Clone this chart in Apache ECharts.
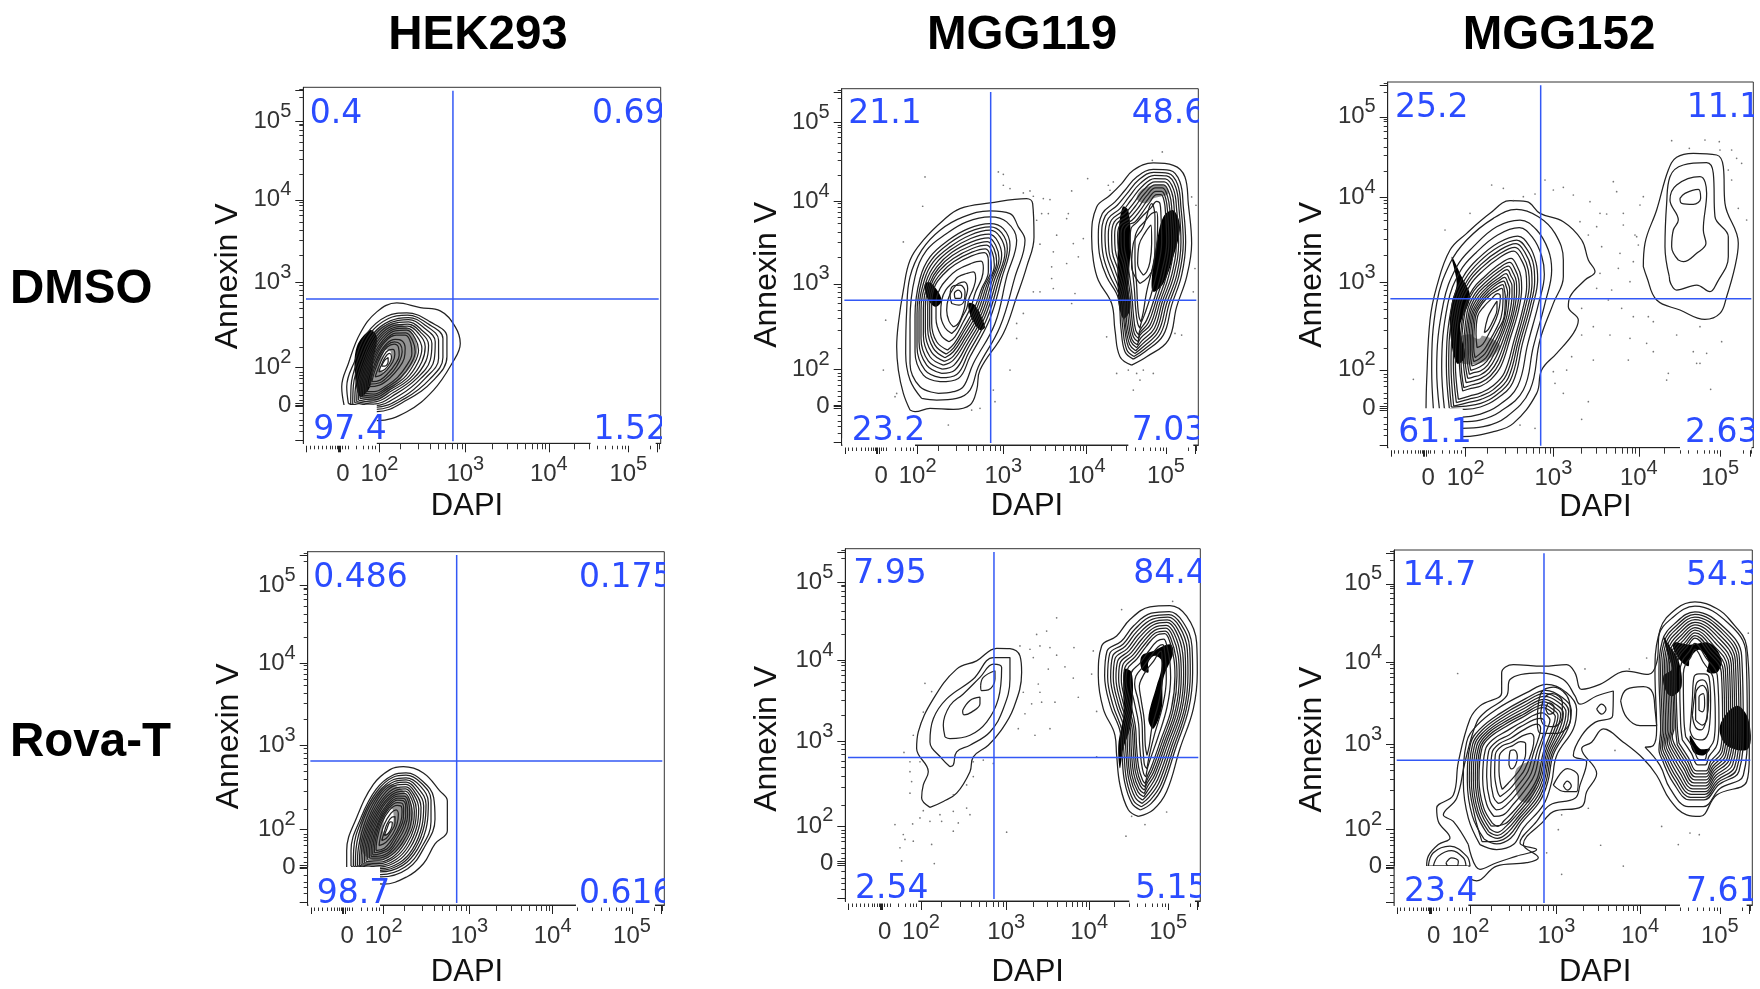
<!DOCTYPE html>
<html><head><meta charset="utf-8">
<script src="https://cdn.jsdelivr.net/npm/echarts@6/dist/echarts.min.js"></script>
<style>html,body{margin:0;padding:0;background:#fff}#c{width:1760px;height:989px}</style>
</head><body><div id="c"></div>
<script>
const columns=['HEK293','MGG119','MGG152'];
const rows=['DMSO','Rova-T'];
const xName='DAPI', yName='Annexin V';
const decadeLabels=['0','2','3','4','5'];
const xDecades=[108,228,485,735,973];
const yDecades=[115,228,484,732,968];
const xMinor=[20,32,45,58,70,80,88,95,102,118,125,135,160,180,195,205,215,290,345,380,405,425,445,460,475,565,610,640,665,685,700,715,725,810,855,880,905,925,940,955,965,1040,1065];
const yMinor=[35,55,70,90,110,120,130,145,160,180,195,205,215,290,345,380,405,425,445,460,475,564,610,640,665,685,700,715,725,810,855,880,905,925,940,955,960,1040,1065];

const hekDmsoPct=['0.4','0.69','97.4','1.52'];
const mgg119DmsoPct=['21.1','48.6','23.2','7.03'];
const mgg152DmsoPct=['25.2','11.1','61.1','2.63'];
const hekRovaPct=['0.486','0.175','98.7','0.616'];
const mgg119RovaPct=['7.95','84.4','2.54','5.15'];
const mgg152RovaPct=['14.7','54.3','23.4','7.61'];

const hekDmsoContours=[
[122,115,115,170,135,240,170,330,220,395,280,422,350,408,410,398,455,350,470,300,445,240,390,160,310,95,220,68,140,85],
[135,120,130,170,155,250,190,330,250,382,310,392,380,365,430,320,430,260,390,190,310,130,220,95],
[148,118,150,175,175,260,210,330,260,368,315,378,365,355,405,310,405,255,365,195,300,140,215,108],
[160,125,165,185,190,265,222,325,265,358,315,365,355,340,385,300,380,250,340,195,280,150,210,118],
[170,135,175,190,200,265,232,320,272,348,312,352,345,330,365,290,355,245,320,195,265,158,210,130],
[180,145,185,195,210,265,240,312,275,338,310,340,335,315,345,280,332,240,300,195,255,165,210,142],
[190,155,195,200,218,262,245,305,278,325,305,325,322,300,325,270,310,235,282,198,248,172,212,155],
[195,170,205,215,225,265,250,300,275,312,295,308,305,285,302,255,285,225,258,195,228,175],
[205,185,215,220,232,262,252,290,272,298,285,288,287,265,275,238,255,212,230,190],
[215,200,225,228,240,262,255,280,268,282,274,268,268,245,250,220,232,205],
[226,215,235,238,246,260,258,270,264,258,258,240,244,222],
[234,232,244,250,254,258,254,245,244,232],
[142,118,143,172,165,255,200,330,255,375,312,385,372,360,418,315,418,258,378,192,305,135,218,102],
[154,122,158,180,183,262,216,328,262,363,315,372,360,348,395,305,392,252,352,195,290,145,212,113],
[165,130,170,188,195,265,227,322,268,353,313,358,350,335,375,295,367,247,330,195,272,154,210,124],
[175,140,180,192,205,265,236,316,273,343,311,346,340,322,355,285,343,242,310,195,260,162,210,136],
[185,150,190,198,214,263,243,308,277,331,307,332,328,307,335,275,321,237,291,197,251,168,211,148],
[200,178,210,218,228,264,251,295,273,305,290,298,296,275,288,247,270,218,244,192,229,182]];
const hekDmsoShade=[[160,200,190,310,260,360,320,340,340,270,290,190,220,130,170,140]];
const hekDmsoDark=[[160,290,200,340,220,320,210,250,200,170,170,140,155,200]];
const hekDmsoHoles=[[228,225,245,280,262,275,258,235,240,215]];
const hekDmsoDots=[];

const hekRovaContours=[
[117,115,117,165,147,265,197,365,247,410,287,419,347,400,397,345,419,315,419,225,382,185,347,125,297,85,227,63,130,95],
[130,118,130,165,160,265,205,350,255,393,295,400,345,375,378,325,382,260,350,175,300,110,220,85],
[143,118,145,170,170,265,212,340,258,380,295,385,338,360,362,310,358,245,330,170,285,120,218,100],
[155,120,158,175,182,262,220,335,262,368,295,372,328,345,348,300,343,240,315,170,275,128,218,110],
[165,125,168,178,192,262,228,325,265,355,295,358,320,332,333,292,328,240,302,178,265,138,215,120],
[175,132,178,182,200,258,233,315,268,342,293,345,312,320,320,285,315,238,290,185,258,148,215,130],
[185,142,188,188,208,255,238,305,270,330,290,330,303,310,306,278,300,235,278,192,250,158,215,142],
[195,152,198,192,215,252,243,298,270,318,286,316,294,298,294,270,285,235,265,198,245,168,215,155],
[205,165,208,198,222,248,246,288,268,302,280,300,283,282,280,255,268,225,250,195,230,172],
[214,180,218,205,230,245,250,278,265,288,272,275,268,245,255,215,235,190],
[222,195,228,215,238,245,252,266,262,268,262,248,250,222,236,202],
[230,210,238,232,248,252,254,250,250,230,240,215],
[137,118,138,168,165,265,208,345,256,387,295,393,342,368,370,318,370,252,340,172,292,115,219,92],
[149,119,152,172,176,263,216,338,260,374,295,379,333,352,355,305,350,242,322,170,280,124,218,105],
[160,122,163,176,187,262,224,330,263,362,295,365,324,338,340,296,335,240,308,174,270,133,216,115],
[170,128,173,180,196,260,230,320,266,348,294,352,316,326,326,288,321,239,296,181,261,143,215,125],
[180,137,183,185,204,256,235,310,269,336,291,338,307,315,313,281,307,236,284,188,254,153,215,136],
[190,147,193,190,212,253,240,301,270,324,288,323,298,304,300,274,292,235,271,195,247,163,215,148],
[200,158,203,195,218,250,244,293,269,310,283,308,288,290,287,262,276,230,257,196,238,170]];
const hekRovaShade=[[157,235,187,315,237,365,287,345,317,275,287,185,217,135,167,155]];
const hekRovaDark=[];
const hekRovaHoles=[[225,230,240,290,255,290,255,240,235,215]];
const hekRovaDots=[];

const mgg119DmsoContours=[
[205,105,185,155,170,225,165,295,170,365,185,465,205,555,245,615,305,675,355,710,445,727,555,740,573,725,577,625,555,535,525,445,485,335,415,225,405,165,385,120,335,107,265,110,220,100],
[240,140,205,195,192,275,195,405,205,505,240,585,295,645,365,685,445,703,505,695,530,655,550,615,520,505,475,355,410,235,385,165,345,140,285,135],
[290,155,235,175,205,245,205,375,220,505,255,585,315,635,375,670,445,685,495,670,525,615,495,505,460,365,395,245,365,175,335,160],
[295,190,245,210,220,280,220,390,235,500,265,565,320,615,380,650,445,665,485,650,505,600,480,500,445,380,385,265,350,200],
[300,215,255,240,232,310,232,400,248,495,275,550,325,595,385,630,445,645,475,625,490,580,465,495,430,385,378,290,340,225],
[305,240,265,265,245,330,245,410,260,490,285,535,330,578,390,610,440,622,462,600,472,560,450,490,420,395,372,310,335,255],
[310,262,275,290,258,350,258,420,270,485,295,525,335,560,392,590,435,600,452,578,458,540,435,480,408,400,368,330,335,280],
[318,285,285,310,270,365,270,425,280,478,305,512,340,542,390,568,428,578,440,555,440,520,420,470,398,410,365,350,338,305],
[322,310,298,330,283,380,283,428,295,470,318,500,345,525,388,545,418,552,425,530,420,500,402,460,388,415,365,370,340,325],
[330,335,310,352,297,392,300,435,312,465,335,490,350,505,375,515,395,520,402,500,395,470,382,440,375,410,362,385,345,350],
[335,355,322,372,315,405,320,440,335,470,350,485,368,490,378,470,372,440,368,410,358,380,347,362],
[330,425,325,450,335,478,355,480,370,460,368,435,352,420],
[340,440,338,455,350,465,360,452,355,440],
[297,202,250,225,226,295,226,395,241,497,270,557,322,605,382,640,445,655,480,637,497,590,472,497,437,382,381,277,345,212],
[302,228,260,252,238,320,238,405,254,492,280,542,327,586,387,620,442,633,468,612,480,570,457,492,425,390,375,300,337,240],
[308,251,270,278,251,340,251,415,265,487,290,530,332,569,391,600,437,611,457,589,465,550,442,485,414,397,370,320,335,267],
[314,273,280,300,264,358,264,422,275,481,300,518,337,551,391,579,431,589,446,566,449,530,427,475,403,405,366,340,336,292],
[870,240,835,265,820,345,810,425,770,495,755,555,750,625,765,715,805,750,840,785,875,825,935,847,995,840,1030,805,1040,725,1050,605,1035,505,1005,415,980,315,915,265],
[875,258,850,280,838,350,830,440,795,505,775,565,770,625,782,695,820,730,850,765,885,805,935,828,985,825,1015,790,1025,715,1032,610,1020,510,990,420,965,330,910,280],
[880,275,860,295,848,360,840,445,812,520,795,570,790,630,800,680,835,710,862,745,895,785,938,810,975,808,1002,775,1012,710,1018,610,1005,510,975,425,950,340,905,295],
[885,292,868,310,855,370,850,450,828,530,812,580,810,630,818,670,850,695,875,725,905,765,940,790,968,790,990,760,998,705,1004,610,990,510,962,430,938,350,900,312],
[890,310,875,325,865,380,860,455,845,540,830,590,828,630,835,660,862,680,888,710,915,748,942,772,962,772,978,745,985,700,990,610,975,510,950,435,925,360,895,330],
[892,330,882,345,875,395,870,460,858,545,848,600,848,640,858,660,880,670,900,695,925,730,945,752,958,752,968,730,972,690,975,610,960,520,938,440,915,375,895,345],
[895,350,888,365,882,410,878,470,870,550,865,610,868,650,885,668,905,690,928,712,945,732,955,725,958,690,960,610,948,530,928,450,908,390,898,365],
[898,370,892,385,888,420,885,480,880,555,880,620,890,650,910,672,930,695,945,700,948,670,945,600,932,530,915,460,905,400],
[895,485,870,535,875,605,905,655,930,725,940,685,940,605,935,535,920,505],
[905,510,888,545,892,600,912,640,928,660,930,605,925,550,915,520],
[877,266,855,287,843,355,835,442,803,512,785,567,780,627,791,688,827,720,856,755,890,795,936,819,980,816,1008,782,1018,712,1025,610,1012,510,982,422,957,335,907,287],
[882,283,864,302,851,365,845,447,820,525,803,575,800,630,809,675,842,702,868,735,900,775,939,800,971,799,996,767,1005,707,1011,610,997,510,968,427,944,345,902,303],
[887,301,871,317,860,375,855,452,836,535,821,585,819,630,826,665,856,687,881,717,910,756,941,781,965,781,984,752,991,702,997,610,982,510,956,432,931,355,897,321],
[891,320,878,335,870,387,865,457,851,542,839,595,838,635,846,660,871,675,894,702,920,739,943,762,960,762,973,737,978,695,982,610,967,515,944,437,920,367,895,337]];
const mgg119DmsoShade=[[885,740,905,770,965,780,980,755,935,740,910,725]];
const mgg119DmsoDark=[[830,625,843,715,860,705,867,605,860,475,865,405,845,380,830,435],[945,605,965,685,995,705,1015,655,995,565,965,485,935,460,930,495],[250,485,270,485,300,435,280,415,255,445],[380,425,400,420,430,355,415,345,390,380]];
const mgg119DmsoHoles=[];
const mgg119DmsoDots=[[250,805],[243,717],[185,610],[470,820],[485,813],[485,780],[505,770],[565,763],[545,757],[575,747],[605,740],[625,737],[600,695],[620,695],[585,675],[690,763],[738,800],[800,780],[815,790],[805,765],[932,855],[962,880],[645,630],[695,605],[725,620],[595,603],[635,580],[680,695],[675,680],[710,565],[675,545],[630,535],[630,500],[635,470],[575,460],[595,460],[700,455],[690,425],[545,395],[525,365],[505,225],[525,320],[125,225],[132,375],[165,155],[160,145],[320,60],[390,105],[415,110],[455,165],[460,130],[795,325],[825,215],[860,225],[885,215],[905,225],[935,215],[875,165],[895,195],[1000,335],[1020,330],[1050,745],[1063,720],[1060,530],[1055,460]];

const mgg152DmsoContours=[
[115,118,117,203,127,383,147,483,187,593,237,643,307,703,367,741,417,738,457,703,527,678,582,623,602,563,622,528,592,503,547,453,542,423,572,383,557,343,507,283,462,233,447,163,377,73,317,48,222,33,130,60],
[137,118,132,233,147,433,187,553,237,623,317,688,387,715,452,693,502,643,527,563,527,513,497,433,457,323,427,173,357,93,287,63,222,58,145,80],
[155,118,147,233,167,433,207,543,257,603,327,663,397,683,447,653,482,593,492,533,472,433,437,303,407,173,337,108,277,83,222,78,160,95],
[170,118,162,240,180,430,218,530,265,585,330,638,395,660,435,630,462,575,470,520,452,430,420,310,390,185,330,125,275,100,225,92],
[185,118,176,245,192,425,228,515,272,568,332,615,390,635,425,605,445,555,450,505,435,425,405,315,375,195,325,145,278,122,232,115],
[198,125,190,250,205,420,238,500,280,550,335,592,385,612,412,585,430,540,433,495,420,420,392,320,362,210,320,165,280,145,240,135],
[212,145,203,255,217,415,247,487,287,532,335,570,378,590,400,565,415,525,417,485,405,415,380,325,350,225,315,185,280,165,245,155],
[225,170,215,260,228,410,255,475,293,515,335,550,370,568,388,545,400,512,402,478,392,410,368,330,340,245,310,205,280,185,250,178],
[235,195,227,265,238,405,262,462,298,500,335,530,362,545,376,525,386,498,387,470,378,405,357,335,330,262,305,225,280,208,255,200],
[245,220,238,275,247,400,270,450,302,485,335,510,355,522,365,505,373,485,373,460,365,400,345,340,320,282,300,248,278,230,258,225],
[253,245,248,285,255,395,277,440,305,472,330,492,348,500,355,485,360,465,358,450,352,395,335,345,312,300,295,270,275,255],
[262,270,258,300,263,390,282,430,310,460,330,472,342,478,346,462,346,440,340,390,322,350,305,320,290,295,275,280],
[228,180,220,262,232,408,258,470,295,508,335,540,366,556,382,535,393,505,395,474,385,408,362,332,335,253,308,215,280,196,252,188],
[240,208,232,270,243,402,266,456,300,492,335,520,358,534,370,515,380,492,380,465,372,402,351,337,325,272,302,236,279,219,256,212],
[249,232,243,280,251,397,274,445,303,478,332,500,351,511,360,495,366,475,365,455,358,397,340,342,316,291,297,259,276,242],
[258,258,253,292,259,392,280,435,308,466,330,482,345,489,350,473,353,452,349,392,328,348,308,310,292,282,275,267],
[206,135,197,252,211,418,242,494,283,541,335,581,382,601,406,575,422,532,425,490,412,418,386,322,356,218,318,175,280,155,242,145],
[191,122,183,248,198,422,233,507,276,559,333,603,387,623,418,595,438,547,441,500,427,422,398,318,368,202,322,155,279,133,236,125],
[268,300,265,340,270,395,290,425,310,445,330,462,338,455,335,420,325,385,305,345,285,310],
[290,345,300,390,315,420,328,440,328,415,318,385,302,355],
[767,543,772,613,807,713,842,833,867,871,917,883,987,878,1007,843,1012,733,1052,613,1042,543,1017,453,997,403,952,385,877,413,807,443,777,513],
[845,513,832,603,837,733,847,813,887,848,957,855,977,823,982,693,1022,633,1022,573,987,493,967,468,927,488,867,473,849,493],
[872,563,852,603,857,653,872,683,847,743,867,788,937,813,957,763,947,653,955,613,927,583,887,558],
[877,748,892,763,932,775,939,748,917,730,882,733]];
const mgg152DmsoShade=[[217,333,297,333,337,303,277,253,207,263]];
const mgg152DmsoDark=[[192,573,222,513,247,453,217,363,232,273,207,253,187,353,192,433,207,493]];
const mgg152DmsoHoles=[[242,408,267,413,287,363,277,328,257,333,245,363],[277,433,297,438,309,403,292,393]];
const mgg152DmsoDots=[[312,788],[347,778],[247,703],[172,653],[377,741],[407,753],[442,761],[472,803],[497,773],[527,781],[557,758],[607,738],[637,703],[657,701],[677,798],[687,768],[707,703],[707,668],[577,678],[627,663],[602,638],[642,603],[697,583],[742,638],[752,608],[637,523],[692,538],[627,478],[672,473],[727,498],[737,558],[582,418],[702,418],[662,443],[737,393],[782,393],[797,378],[582,338],[617,363],[667,338],[727,328],[777,313],[797,288],[722,263],[617,263],[552,273],[537,233],[497,228],[502,193],[527,163],[602,138],[582,85],[442,58],[397,68],[842,223],[837,203],[927,253],[937,253],[969,175],[917,288],[957,283],[867,338],[937,363],[1002,318],[852,921],[952,923],[995,918],[905,898],[997,893],[1032,893],[1047,868],[1062,853],[1022,833],[1032,803],[1052,718],[1077,683],[767,753],[757,728],[747,633],[77,205]];

const mgg119RovaContours=[
[254,283,229,311,234,351,249,391,214,461,219,511,264,611,334,701,394,726,454,764,494,763,524,741,529,691,504,581,464,511,429,471,384,436,374,391,334,326,294,301],
[314,406,289,431,254,481,264,551,304,611,384,671,444,736,494,736,494,671,474,581,434,511,374,471,334,451,324,411],
[299,496,294,531,314,591,354,626,404,676,444,716,469,706,459,611,424,541,374,501,314,491],
[406,651,414,676,449,696,449,671,429,638,409,636],
[352,576,374,606,404,616,404,596,379,571,356,563],
[879,256,849,276,824,351,814,441,809,501,774,581,759,681,769,771,814,801,854,851,914,889,974,893,1024,861,1054,781,1056,691,1044,581,1004,461,964,331,924,276],
[885,275,860,295,838,360,830,445,825,510,795,590,778,680,785,755,828,785,865,832,918,870,972,875,1012,845,1040,770,1042,690,1030,580,992,465,952,345,918,295],
[890,295,870,312,850,370,842,450,838,515,812,595,796,675,802,740,840,770,875,815,922,852,968,858,1002,830,1026,760,1028,688,1017,580,980,470,942,360,912,315],
[895,315,878,330,860,380,853,455,850,520,826,600,812,675,817,725,852,757,885,800,925,835,965,842,992,815,1012,750,1015,685,1004,580,968,475,932,375,908,335],
[898,335,885,348,870,392,864,460,860,525,840,605,828,670,832,712,864,745,895,785,928,818,962,825,982,800,999,740,1002,682,991,580,957,480,925,390,905,355],
[900,355,892,365,880,405,874,465,870,530,853,610,842,665,846,700,875,732,903,770,932,802,958,808,973,785,986,730,989,680,978,580,947,488,918,405,905,375],
[902,375,895,385,888,420,883,472,880,535,865,610,855,660,858,690,885,720,910,755,935,785,955,792,965,770,974,720,976,675,965,585,938,495,912,420,905,395],
[905,400,898,410,895,435,892,478,890,540,878,610,868,655,872,680,895,710,918,742,938,768,952,775,958,755,962,712,963,670,952,590,928,505,912,440],
[905,440,900,470,897,545,888,605,882,650,888,670,905,700,925,725,940,750,948,755,950,730,950,670,940,600,920,525,912,470],
[888,285,865,303,844,365,836,447,831,512,803,592,787,677,793,747,834,777,870,823,920,861,970,866,1007,837,1033,765,1035,689,1023,580,986,467,947,352,915,305],
[892,305,874,321,855,375,847,452,844,517,819,597,804,675,809,732,846,763,880,807,923,843,966,850,997,822,1019,755,1021,686,1010,580,974,472,937,367,910,325],
[897,325,881,339,865,386,858,457,855,522,833,602,820,672,824,718,858,751,890,792,926,826,963,833,987,807,1005,745,1008,683,997,580,962,477,928,382,906,345],
[899,345,888,356,875,398,869,462,865,527,846,607,835,667,839,706,869,738,899,777,930,810,960,816,977,792,992,735,995,681,984,580,952,484,921,397,905,365]];
const mgg119RovaShade=[];
const mgg119RovaDark=[[839,701,859,691,862,601,854,521,834,461,824,401,819,471,834,561,834,651],[889,741,924,756,974,776,984,751,954,671,949,581,924,521,909,551,934,651,946,691,949,726,927,741,909,721,909,691,889,701]];
const mgg119RovaHoles=[[912,721,927,741,942,721,934,691,924,686],[919,671,929,671,909,591,896,591]];
const mgg119RovaDots=[[239,658],[259,633],[234,571],[204,501],[176,449],[194,421],[224,421],[194,391],[199,361],[194,326],[234,273],[284,261],[324,271],[364,281],[374,261],[149,231],[174,201],[179,186],[164,161],[169,121],[204,181],[202,233],[224,251],[254,241],[289,241],[339,236],[324,211],[259,171],[267,113],[484,208],[384,421],[384,376],[364,351],[324,321],[414,426],[444,416],[519,521],[569,501],[614,521],[559,596],[534,631],[584,631],[629,601],[589,601],[539,566],[579,656],[524,771],[554,761],[584,771],[614,766],[634,743],[659,708],[686,766],[744,756],[739,686],[684,674],[699,616],[634,856],[604,816],[574,806],[564,736],[609,701],[754,573],[754,436],[829,881],[982,906],[842,196],[859,256],[899,231],[964,269]];

const mgg152RovaContours=[
[98,118,103,148,133,183,168,203,133,253,128,293,178,333,193,433,228,563,258,603,323,643,323,703,358,728,448,723,518,728,543,703,563,653,618,668,698,708,763,698,788,733,798,833,848,898,903,918,968,898,1008,863,1058,783,1066,633,1066,453,1058,373,968,333,918,268,878,273,828,318,788,393,748,443,688,493,628,533,593,493,563,473,608,398,578,343,563,298,478,283,448,253,388,183,433,143,398,128,308,118,248,73,218,83,150,105],
[680,618,698,653,748,661,776,643,783,593,788,543,738,543,698,568],
[608,593,623,608,636,593,623,578],
[103,118,118,158,168,178,218,148,228,118],
[118,118,133,148,173,165,208,143,216,118],
[156,128,173,143,193,133,188,118,163,118],
[223,183,178,253,148,273,188,323,213,433,248,553,278,588,338,633,348,683,438,703,508,683,543,633,558,608,608,633,658,648,656,573,603,553,563,513,538,453,578,433,558,363,543,323,468,303,428,253,378,188,428,168,368,148,308,128,258,108],
[258,183,223,263,208,373,218,493,248,543,308,593,398,643,458,668,518,643,548,593,538,533,488,453,473,373,448,303,388,233,358,183,308,168],
[270,200,235,270,220,375,230,490,260,535,315,578,395,625,455,650,505,628,532,590,522,535,478,455,462,375,438,315,382,248,350,202,308,185],
[280,215,247,280,232,378,242,485,270,525,322,565,392,605,452,632,492,615,516,585,506,535,468,458,452,380,428,325,376,262,342,220,310,202],
[288,230,258,288,244,380,254,480,280,518,328,552,388,585,450,615,480,600,500,578,490,535,458,460,442,385,418,335,370,275,336,238,310,220],
[295,248,268,297,255,382,264,475,290,510,335,540,385,568,448,598,468,588,484,570,474,532,448,462,432,390,408,345,364,290,330,255,312,238],
[300,268,278,305,266,384,274,470,298,502,340,528,380,552,445,582,458,575,468,560,458,528,438,464,422,395,398,355,358,305,326,272],
[306,288,288,315,278,388,284,465,308,495,345,515,380,540,440,565,452,555,450,525,430,466,412,400,388,362,354,320,324,292],
[312,308,298,328,290,392,294,460,316,488,350,505,385,528,430,548,440,535,432,500,420,465,402,405,380,372,350,335,325,312],
[318,328,310,345,302,398,304,455,325,482,352,492,385,512,410,520,420,505,415,470,392,410,372,382,346,350],
[325,350,320,365,315,405,316,450,332,472,355,482,380,495,395,488,395,460,380,415,362,390,342,368],
[345,425,348,465,360,470,370,450,365,425,352,412],
[264,192,241,275,226,376,236,487,265,530,318,571,393,615,453,641,498,621,524,587,514,535,473,456,457,377,433,320,379,255,346,211,309,193],
[284,222,252,284,238,379,248,482,275,521,325,558,390,595,451,623,486,607,508,581,498,535,463,459,447,382,423,330,373,268,339,229,310,211],
[292,239,263,292,250,381,259,477,285,514,331,546,386,576,449,606,474,594,492,574,482,533,453,461,437,387,413,340,367,282,333,246],
[455,595,465,612,480,600,480,585,465,578],
[440,570,450,625,475,640,505,615,505,570,478,540,450,545],
[430,555,440,640,478,660,525,620,530,565,490,520,440,520],
[508,361,520,375,532,360,520,348],
[478,363,520,413,553,388,548,343,513,343],
[753,478,798,423,828,353,883,298,928,298,978,353,1048,393,1060,533,1056,763,1003,853,903,905,833,868,793,813,783,703,788,533,778,483],
[805,440,838,370,888,318,930,318,975,365,1035,405,1048,535,1043,755,993,838,903,888,842,852,805,800,795,700,800,530,795,470],
[815,450,848,385,892,335,932,335,970,378,1022,418,1035,535,1030,745,983,825,903,872,850,838,815,790,806,700,810,530,805,480],
[825,460,858,400,896,352,934,352,965,392,1010,432,1022,538,1018,735,973,810,903,856,858,824,825,780,816,700,820,530,815,490],
[835,470,868,415,900,370,936,370,960,406,1000,446,1010,540,1006,725,963,795,903,840,866,810,835,770,826,700,830,530,825,500],
[845,480,876,430,904,388,936,388,956,420,990,460,998,545,994,715,953,780,903,824,874,796,845,760,836,700,840,535,835,510],
[855,490,884,445,908,406,936,406,950,435,980,474,986,550,982,705,943,765,903,808,880,782,855,750,846,700,850,540],
[865,500,892,460,912,424,934,424,945,450,970,488,975,555,970,695,935,750,903,792,886,768,865,740,857,700,860,550],
[875,510,898,475,916,440,932,440,940,465,960,500,964,560,958,685,928,735,903,775,890,750,875,730,868,700,870,560],
[810,445,843,378,890,326,931,326,972,371,1028,411,1041,535,1036,750,988,831,903,880,846,845,810,795,800,700,805,530,800,475],
[820,455,853,392,894,343,933,343,967,385,1016,425,1028,536,1024,740,978,817,903,864,854,831,820,785,811,700,815,530,810,485],
[830,465,863,407,898,361,935,361,962,399,1005,439,1016,539,1012,730,968,802,903,848,862,817,830,775,821,700,825,530,820,495],
[840,475,872,422,902,379,936,379,958,413,995,453,1004,542,1000,720,958,787,903,832,870,803,840,765,831,700,835,532,830,505],
[850,485,880,437,906,397,936,397,953,427,985,467,992,547,988,710,948,772,903,816,877,789,850,755,841,700,845,537],
[888,530,895,620,900,690,915,700,930,700,945,690,950,620,945,530,925,500,900,505],
[895,575,902,635,908,672,925,682,940,665,944,620,938,565,922,530,905,538],
[905,560,905,640,925,665,940,640,940,570,925,545],
[915,590,915,630,928,640,932,610,925,585]];
const mgg152RovaShade=[[368,413,438,433,408,313,373,323]];
const mgg152RovaDark=[[808,813,828,783,853,743,863,663,838,633,818,643,808,693,833,713,823,753],[838,793,888,788,948,793,983,743,968,703,938,708,943,738,916,773,888,748,883,723,853,748],[888,513,918,473,948,473,928,453,898,463],[978,543,1028,603,1063,563,1063,473,998,483]];
const mgg152RovaHoles=[[890,738,916,768,943,738,930,698,903,698],[923,523,943,568,963,533,953,483,928,483]];
const mgg152RovaDots=[[191,701],[573,715],[706,715],[758,748],[1063,823],[888,218],[916,213],[803,238],[853,183],[620,181],[688,118],[503,93],[493,228],[458,158],[503,273],[583,293],[663,468]];

const FONT='"Liberation Sans",Arial,sans-serif';
const panels=[
 {box:[303.3,87.3,357.4,356],span:1070,pct:hekDmsoPct,contours:hekDmsoContours,shade:hekDmsoShade,dark:hekDmsoDark,holes:hekDmsoHoles,dots:hekDmsoDots,gate:[448,434],text:[[19,988],[864,988],[30,40],[869,40]],blPatch:[220,115],brPatch:[860,1055],xn:[48,-15],yn:[59,11]},
 {box:[841.7,88.7,356.6,356.3],span:1070,pct:mgg119DmsoPct,contours:mgg119DmsoContours,shade:mgg119DmsoShade,dark:mgg119DmsoDark,holes:mgg119DmsoHoles,dots:mgg119DmsoDots,gate:[447,435],text:[[20,994],[870,994],[30,42],[870,42]],blPatch:[220,20],brPatch:[860,1055],xn:[46,7],yn:[59,8]},
 {box:[1387.7,82,365.6,365.7],span:1097,pct:mgg152DmsoPct,contours:mgg152DmsoContours,shade:mgg152DmsoShade,dark:mgg152DmsoDark,holes:mgg152DmsoHoles,dots:mgg152DmsoDots,gate:[459,447],text:[[22,1019],[897,1019],[32,43],[892,43]],blPatch:[225,118],brPatch:[877,1092],xn:[43,25],yn:[60,10]},
 {box:[307.7,551.7,356.6,356.6],span:1070,pct:hekRovaPct,contours:hekRovaContours,shade:hekRovaShade,dark:hekRovaDark,holes:hekRovaHoles,dots:hekRovaDots,gate:[447,436],text:[[17,989],[814,989],[27,33],[814,33]],blPatch:[217,115],brPatch:[805,1042],xn:[52,-19],yn:[63,8]},
 {box:[845.3,548.7,355,355],span:1065,pct:mgg119RovaPct,contours:mgg119RovaContours,shade:mgg119RovaShade,dark:mgg119RovaDark,holes:mgg119RovaHoles,dots:mgg119RovaDots,gate:[446,434],text:[[24,988],[864,988],[29,34],[869,34]],blPatch:[219,20],brPatch:[852,1049],xn:[56,5],yn:[62,14]},
 {box:[1394,550,358.3,357.7],span:1075,pct:mgg152RovaPct,contours:mgg152RovaContours,shade:mgg152RovaShade,dark:mgg152RovaDark,holes:mgg152RovaHoles,dots:mgg152RovaDots,gate:[450,438],text:[[26,995],[876,995],[30,38],[876,38]],blPatch:[223,118],brPatch:[858,1058],xn:[52,22],yn:[66,12]}
];

const pairs=f=>{const o=[];for(let i=0;i<f.length;i+=2)o.push([f[i],f[i+1]]);return o;};
const closed=f=>{const p=pairs(f);p.push(p[0].slice());return p;};
const tickText={fontFamily:FONT,color:'#333'};
const richFor=zPad=>({n:{...tickText,fontSize:24,lineHeight:40,verticalAlign:'middle'},
            e:{...tickText,fontSize:20,lineHeight:20,verticalAlign:'top'},
            z:{...tickText,fontSize:24,lineHeight:40,verticalAlign:'middle',padding:zPad}});
const grid=[],xAxis=[],yAxis=[],series=[];
panels.forEach((p,i)=>{
  const k=p.span/1070, sc=a=>a.map(v=>v*k);
  grid.push({left:p.box[0],top:p.box[1],width:p.box[2],height:p.box[3],show:true,borderColor:'#333',borderWidth:1,backgroundColor:'#fff'});
  const xMaj=sc(xDecades), yMaj=sc(yDecades);
  const fmt=list=>v=>{const idx=list.findIndex(t=>Math.abs(t-v)<.01);if(idx<0)return'';return idx===0?'{z|'+decadeLabels[0]+'}':'{n|10}{e|'+decadeLabels[idx]+'}';};
  const line={show:true,onZero:false,lineStyle:{color:'#222',width:1}};
  xAxis.push({gridIndex:i,type:'value',min:0,max:p.span,position:'bottom',axisLine:line,splitLine:{show:false},
    name:xName,nameLocation:'middle',nameGap:p.xn[0],
    nameTextStyle:{fontSize:31,fontFamily:FONT,color:'#111',padding:p.xn[1]>=0?[0,0,0,2*p.xn[1]]:[0,-2*p.xn[1],0,0]},
    axisTick:{show:true,length:9,customValues:sc([10,104,108,112,228,485,735,973,1060]),lineStyle:{color:'#222',width:1}},
    axisLabel:{show:true,customValues:xMaj,formatter:fmt(xMaj),margin:11,rich:richFor([0,0,0,7]),hideOverlap:false}});
  xAxis.push({gridIndex:i,type:'value',min:0,max:p.span,position:'bottom',axisLine:{show:false},splitLine:{show:false},
    axisTick:{show:true,length:6,customValues:sc(xMinor),lineStyle:{color:'#333',width:1}},axisLabel:{show:false}});
  yAxis.push({gridIndex:i,type:'value',min:0,max:p.span,position:'left',axisLine:line,splitLine:{show:false},
    name:yName,nameLocation:'middle',nameGap:p.yn[0],
    nameTextStyle:{fontSize:32,fontFamily:FONT,color:'#111',padding:[0,2*p.yn[1],0,0]},
    axisTick:{show:true,length:8,customValues:sc([8,110,115,120,228,484,732,968,1060]),lineStyle:{color:'#222',width:1}},
    axisLabel:{show:true,customValues:yMaj,formatter:fmt(yMaj),margin:12,rich:richFor(0),hideOverlap:false}});
  yAxis.push({gridIndex:i,type:'value',min:0,max:p.span,position:'left',axisLine:{show:false},splitLine:{show:false},
    axisTick:{show:true,length:4,customValues:sc(yMinor),lineStyle:{color:'#333',width:1}},axisLabel:{show:false}});
  const xi=2*i, yi=2*i;
  const common={xAxisIndex:xi,yAxisIndex:yi,animation:false,silent:true};
  const regions=(list,style,z)=>{ if(!list.length)return;
    series.push({...common,type:'custom',coordinateSystem:'cartesian2d',clip:true,z,data:list.map((_,n)=>[n]),
      renderItem:(ps,api)=>({type:'polygon',shape:{smooth:0.35,points:pairs(list[ps.dataIndex]).map(q=>api.coord(q))},style})});};
  regions(p.shade,{fill:'rgba(0,0,0,0.42)'},2);
  regions(p.dark,{fill:'#000'},2);
  regions(p.holes,{fill:'#fff'},2);
  p.contours.forEach(c=>series.push({...common,type:'line',data:closed(c),smooth:0.4,symbol:'none',z:3,clip:true,lineStyle:{color:'#222',width:1.25}}));
  if(p.dots.length)series.push({...common,type:'scatter',data:p.dots,symbolSize:1.7,z:3,itemStyle:{color:'#555'}});
  // white label patches, as in the exported plot
  const patchData=[[2,-2.5*p.span/357,p.blPatch[0],p.blPatch[1]],[p.brPatch[0],-2.5*p.span/357,p.brPatch[1],5]];
  series.push({...common,type:'custom',coordinateSystem:'cartesian2d',clip:false,z:4,data:patchData,
    encode:{x:[0,2],y:[1,3]},
    renderItem:(ps,api)=>{const a=api.coord([api.value(0),api.value(3)]),b=api.coord([api.value(2),api.value(1)]);
      return{type:'rect',shape:{x:a[0],y:a[1],width:b[0]-a[0],height:b[1]-a[1]},style:{fill:'#fff'}};}});
  series.push({...common,type:'line',data:[[p.gate[0],6],[p.gate[0],p.span-10]],symbol:'none',z:5,lineStyle:{color:'#3358f5',width:1.5}});
  series.push({...common,type:'line',data:[[8,p.gate[1]],[p.span-6,p.gate[1]]],symbol:'none',z:5,lineStyle:{color:'#3358f5',width:1.5}});
  series.push({...common,type:'custom',coordinateSystem:'cartesian2d',clip:true,z:6,data:p.text,
    renderItem:(ps,api)=>{const a=api.coord([api.value(0),api.value(1)]);
      return{type:'text',style:{x:a[0],y:a[1],text:p.pct[ps.dataIndex],fill:'#2b4cff',font:'33px "DejaVu Sans"',align:'left',verticalAlign:'middle'}};}});
});
const titleCenters=[478,1022,1559], rowTops=[290,743];
const title=[
 ...columns.map((t,i)=>({text:t,left:titleCenters[i],top:36,padding:0,textAlign:'center',textVerticalAlign:'middle',textStyle:{fontSize:47.5,fontWeight:'bold',color:'#000',fontFamily:FONT}})),
 ...rows.map((t,i)=>({text:t,left:10,top:rowTops[i],padding:0,textVerticalAlign:'middle',textStyle:{fontSize:47.5,fontWeight:'bold',color:'#000',fontFamily:FONT}}))
];
const chart=echarts.init(document.getElementById('c'),null,{renderer:'canvas',width:1760,height:989});
chart.setOption({animation:false,backgroundColor:'#fff',title,grid,xAxis,yAxis,series});
</script></body></html>
